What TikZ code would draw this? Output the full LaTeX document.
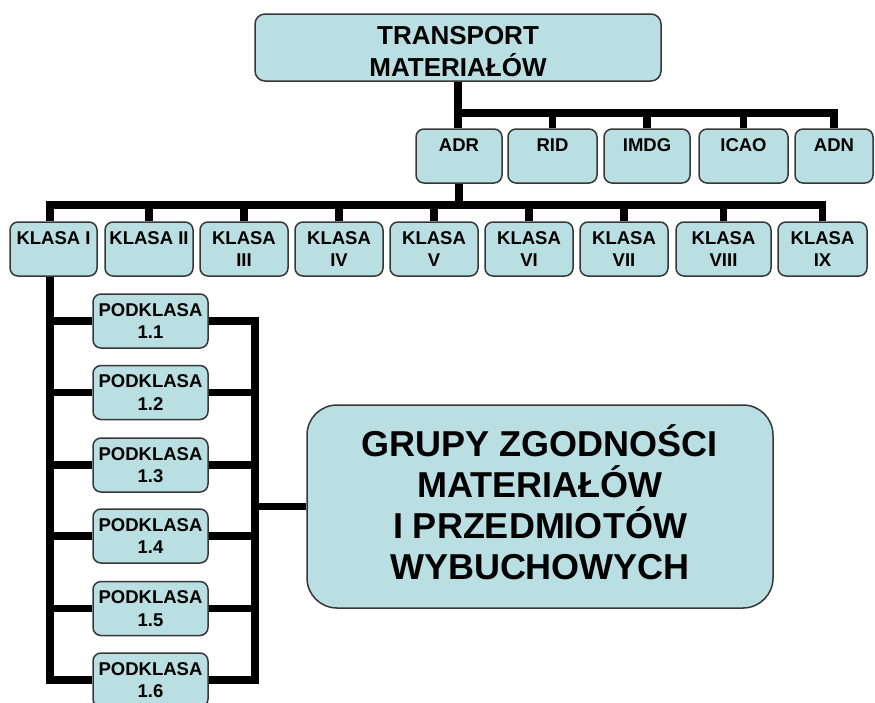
\documentclass[tikz,border=0pt]{standalone}
\usepackage{fontspec}
\setmainfont{Liberation Sans}
\definecolor{boxfill}{RGB}{185,223,227}
\definecolor{boxline}{RGB}{55,55,55}
\tikzset{
  box/.style={draw=boxline, line width=1.5pt, fill=boxfill, rounded corners=8pt,
    inner sep=0pt, align=center, font=\bfseries\fontsize{18.5}{22.5}\selectfont},
  topbox/.style={box, rounded corners=10pt, font=\bfseries\fontsize{26}{31.5}\selectfont},
  bigbox/.style={box, rounded corners=30pt, font=\bfseries\fontsize{36}{41}\selectfont},
  conn/.style={line width=7.5pt, black, line join=miter}
}
\begin{document}
\begin{tikzpicture}[x=1pt,y=-1pt]
\useasboundingbox (0,0) rectangle (875,702);
\clip (0,0) rectangle (875,702);
% top
\node[topbox, minimum width=406, minimum height=67] (top) at (458,47.5) {\rule{0pt}{26pt}TRANSPORT\\MATERIAŁÓW};
% transport modes
\node[box, minimum width=86, minimum height=54] (adr) at (459,156) {ADR\\\mbox{}};
\node[box, minimum width=89, minimum height=54] (rid) at (552.5,156) {RID\\\mbox{}};
\node[box, minimum width=86, minimum height=54] (imdg) at (647,156) {IMDG\\\mbox{}};
\node[box, minimum width=89, minimum height=54] (icao) at (743.5,156) {ICAO\\\mbox{}};
\node[box, minimum width=78, minimum height=54] (adn) at (834,156) {ADN\\\mbox{}};
% classes
\node[box, minimum width=87, minimum height=54] (k1) at (53.5,249) {KLASA I\\\mbox{}};
\node[box, minimum width=88, minimum height=54] (k2) at (149,249) {KLASA II\\\mbox{}};
\node[box, minimum width=88, minimum height=54] (k3) at (244,249) {KLASA\\III};
\node[box, minimum width=88, minimum height=54] (k4) at (339,249) {KLASA\\IV};
\node[box, minimum width=88, minimum height=54] (k5) at (434,249) {KLASA\\V};
\node[box, minimum width=88, minimum height=54] (k6) at (529,249) {KLASA\\VI};
\node[box, minimum width=88, minimum height=54] (k7) at (624,249) {KLASA\\VII};
\node[box, minimum width=95, minimum height=54] (k8) at (723.5,249) {KLASA\\VIII};
\node[box, minimum width=89, minimum height=54] (k9) at (822.5,249) {KLASA\\IX};
% subclasses
\node[box, minimum width=115, minimum height=54] (p1) at (150.5,321) {PODKLASA\\1.1};
\node[box, minimum width=115, minimum height=54] (p2) at (150.5,392.5) {PODKLASA\\1.2};
\node[box, minimum width=115, minimum height=54] (p3) at (150.5,465) {PODKLASA\\1.3};
\node[box, minimum width=115, minimum height=54] (p4) at (150.5,536) {PODKLASA\\1.4};
\node[box, minimum width=115, minimum height=54] (p5) at (150.5,608.5) {PODKLASA\\1.5};
\node[box, minimum width=115, minimum height=54] (p6) at (150.5,680) {PODKLASA\\1.6};
% big box
\node[bigbox, minimum width=466, minimum height=203] (big) at (540,506.5) {GRUPY ZGODNOŚCI\\MATERIAŁÓW\\I PRZEDMIOTÓW\\WYBUCHOWYCH\rule[-8pt]{0pt}{8pt}};
% helper coordinates
\coordinate (b1) at (0,113);
\coordinate (b2) at (0,205);
\coordinate (lt) at (50,0);
\coordinate (rt) at (255,0);
% connectors level 1
\draw[conn] (top.south) -- (top.south |- adr.north);
\draw[conn] (top.south |- b1) -| (adn.north);
\draw[conn] (rid.north) -- (rid.north |- b1);
\draw[conn] (imdg.north) -- (imdg.north |- b1);
\draw[conn] (icao.north) -- (icao.north |- b1);
% connectors level 2
\draw[conn] (adr.south) -- (adr.south |- b2);
\draw[conn] (lt |- k1.north) |- (k9.north |- b2) -- (k9.north);
\foreach \k in {k2,k3,k4,k5,k6,k7,k8}{
  \draw[conn] (\k.north) -- (\k.north |- b2);
}
% left trunk
\draw[conn] (lt |- k1.south) |- (p6.west);
\foreach \p in {p1,p2,p3,p4,p5}{
  \draw[conn] (lt |- \p.west) -- (\p.west);
}
% right trunk
\draw[conn] (p1.east) -| (rt |- p6.east) -- (p6.east);
\foreach \p in {p2,p3,p4,p5}{
  \draw[conn] (\p.east) -- (\p.east -| rt);
}
\draw[conn] (big.west) -- (big.west -| rt);
\end{tikzpicture}
\end{document}
